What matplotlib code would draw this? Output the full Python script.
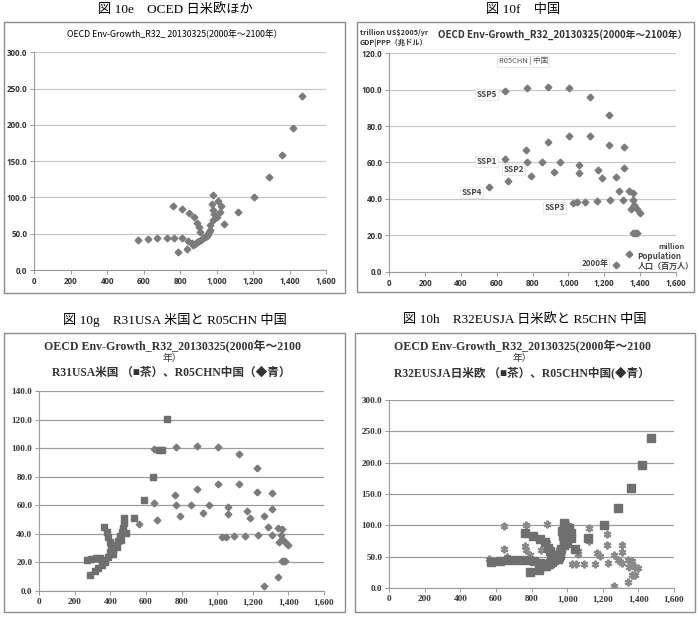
import matplotlib
matplotlib.use("Agg")
import matplotlib.pyplot as plt
from matplotlib.ticker import FuncFormatter, MultipleLocator
from matplotlib.patches import Rectangle

# R32EUSJA (Japan / US / EU), population [million] vs GDP|PPP [trillion US$2005/yr]
eusja_pop = [570, 622, 675, 726, 768, 812, 763, 809, 849, 876, 894, 904, 909, 790, 839,
             845, 863, 870, 882, 895, 905, 915, 925, 935, 945, 955, 950, 962, 960,
             982, 1009, 1022, 1019, 1000, 973, 978, 983, 982, 964, 1041, 1119,
             1205, 1285, 1360, 1420, 1468]
eusja_gdp = [41.3, 42.7, 44.5, 44.5, 44.5, 43.6, 88.2, 83.6, 78.1, 73.5, 64.3, 58.8, 52.8, 25.3, 28.9,
             40.4, 37.7, 35.0, 35.4, 38.0, 40.0, 42.0, 44.0, 46.0, 48.0, 50.0, 47.0, 55.0, 52.8,
             103.0, 95.5, 88.2, 80.4, 72.6, 91.0, 82.7, 77.0, 68.9, 62.0, 63.0, 79.5,
             101.0, 127.5, 159.0, 196.0, 240.0]

# R05CHN China
chn_pop = [645, 768, 884, 1003, 1120, 1226,
           645, 763, 884, 1003, 1120, 1226, 1310,
           768, 854, 953, 1059, 1165, 1265, 1310,
           664, 789, 921, 1059, 1185, 1284, 1340, 1362, 558,
           1027, 1049, 1094, 1157, 1231, 1306, 1358, 1365, 1347, 1380, 1399,
           1362, 1372, 1382, 1340, 1265]
chn_gdp = [99.4, 100.8, 101.7, 100.8, 96.0, 86.3,
           61.8, 66.9, 71.4, 74.6, 74.6, 69.4, 68.4,
           60.4, 60.4, 60.4, 58.6, 55.9, 52.2, 57.1,
           49.8, 52.7, 54.6, 54.1, 51.3, 44.5, 44.3, 43.4, 46.7,
           37.9, 38.1, 38.5, 38.8, 39.2, 39.2, 39.2, 36.6, 34.3, 34.3, 32.1,
           21.1, 21.0, 21.0, 9.6, 3.7]

# R31USA
usa_pop = [287, 313, 332, 353, 372, 387, 395, 402, 395, 387, 380, 366,
           266, 292, 319, 343, 364,
           404, 417, 414, 427, 436, 440, 452, 461, 463, 471, 474, 476, 490,
           533, 588, 638, 670, 689, 717]
usa_gdp = [11.4, 14.0, 16.3, 18.4, 20.3, 23.8, 27.3, 30.8, 34.3, 37.8, 41.3, 44.8,
           21.4, 22.4, 23.1, 23.1, 21.4,
           26.1, 26.1, 28.9, 31.9, 30.8, 35.0, 38.2, 35.4, 41.3, 44.3, 47.6, 51.0, 40.6,
           51.0, 63.9, 79.7, 98.4, 98.4, 120.5]

ssp_labels = ["SSP5", "SSP1", "SSP2", "SSP4", "SSP3"]
ssp_pos = [(600, 97.5), (600, 60.5), (752, 56.0), (515, 43.5), (980, 35.0)]

W, H = 699, 620
SANS = ["Noto Sans CJK JP", "DejaVu Sans"]
SERIF = ["Liberation Serif", "Noto Sans CJK JP"]
GRAY = "#7b7b7b"

fig = plt.figure(figsize=(W / 100, H / 100), dpi=100)


def px_axes(x0, y0, x1, y1):
    return fig.add_axes([x0 / W, 1 - y1 / H, (x1 - x0) / W, (y1 - y0) / H])


def ftext(x, y, s, **kw):
    fig.text(x / W, 1 - y / H, s, ha="center", va="center", **kw)


def frame(x0, y0, x1, y1):
    fig.patches.append(Rectangle((x0 / W, 1 - y1 / H), (x1 - x0) / W, (y1 - y0) / H,
                                 transform=fig.transFigure, fill=False,
                                 edgecolor="#8c8c8c", lw=1.0))


def style(ax, ymax, ystep, family, gridc, size):
    ax.set_xlim(0, 1600)
    ax.set_ylim(0, ymax)
    ax.xaxis.set_major_locator(MultipleLocator(200))
    ax.yaxis.set_major_locator(MultipleLocator(ystep))
    ax.xaxis.set_major_formatter(FuncFormatter(lambda v, p: f"{int(v):,}"))
    ax.yaxis.set_major_formatter(FuncFormatter(lambda v, p: f"{v:.1f}"))
    ax.grid(axis="y", color=gridc, lw=0.9)
    ax.set_axisbelow(True)
    for s in ["top", "right"]:
        ax.spines[s].set_visible(False)
    for s in ["left", "bottom"]:
        ax.spines[s].set_color("#9a9a9a")
        ax.spines[s].set_linewidth(0.8)
    ax.tick_params(length=3, width=0.7, color="#9a9a9a", pad=2, labelsize=size,
                   labelcolor="#333333")
    for lab in ax.get_xticklabels() + ax.get_yticklabels():
        lab.set_family(family)
        lab.set_fontweight("bold")


# ---- 10e
frame(4, 22, 345, 293)
ftext(175, 10, "図 10e　OCED 日米欧ほか", family=SERIF, fontsize=9.5)
ftext(175, 34, "OECD Env-Growth_R32_ 20130325(2000年～2100年）", family=SANS, fontsize=6.3)
ax = px_axes(34.3, 52.3, 326, 270)
ax.plot(eusja_pop, eusja_gdp, ls="none", marker="D", ms=3.4, color=GRAY, mec=GRAY)
style(ax, 300, 50, ["Open Sans"], "#c8c8c8", 5.8)

# ---- 10f
frame(357, 22, 694, 292)
ftext(523, 10, "図 10f　中国", family=SERIF, fontsize=9.5)
ftext(563, 35, "OECD Env-Growth_R32_20130325(2000年～2100年）", family=SANS, fontsize=7,
      fontweight="bold", color="#333333")
fig.text(360 / W, 1 - 32 / H, "trillion US$2005/yr", family=SANS, fontsize=5.2,
         fontweight="bold", va="center", color="#333333")
fig.text(360 / W, 1 - 43 / H, "GDP|PPP（兆ドル）", family=SANS, fontsize=5.2,
         fontweight="bold", va="center", color="#333333")
ax = px_axes(389.3, 53.3, 676, 271.7)
ax.plot(chn_pop, chn_gdp, ls="none", marker="D", ms=3.4, color=GRAY, mec=GRAY)
style(ax, 120, 20, ["Open Sans"], "#c8c8c8", 5.8)
box = dict(boxstyle="square,pad=0.15", fc="white", ec="#e4e4e4", lw=0.6)
for lab, (xx, yy) in zip(ssp_labels, ssp_pos):
    ax.text(xx, yy, lab, ha="right", va="center", family=SANS, fontsize=5.8,
            fontweight="bold", color="#444444", bbox=box)
ax.text(610, 115.5, "R05CHN | 中国", ha="left", va="center", family=SANS, fontsize=5.4,
        color="#555555", bbox=box)
ax.text(1222, 4.6, "2000年", ha="right", va="center", family=SANS, fontsize=5.8,
        fontweight="bold", color="#444444", bbox=box)
ax.text(1650, 13.8, "million", ha="right", va="center", family=SANS, fontsize=5.4,
        fontweight="bold", color="#444444", clip_on=False)
ax.text(1385, 8.4, "Population", ha="left", va="center", family=SANS, fontsize=5.8,
        fontweight="bold", color="#444444", clip_on=False)
ax.text(1385, 3.0, "人口（百万人）", ha="left", va="center", family=SANS, fontsize=5.8,
        fontweight="bold", color="#444444", clip_on=False)

# ---- 10g
frame(4, 333, 345, 612)
ftext(175, 320, "図 10g　R31USA 米国と R05CHN 中国", family=SERIF, fontsize=9.5)
ftext(173, 347, "OECD Env-Growth_R32_20130325(2000年～2100", family=SERIF, fontsize=8.6,
      fontweight="bold", color="#333333")
ftext(172, 358, "年）", family=SERIF, fontsize=7, color="#333333")
ftext(171, 373, "R31USA米国 （■茶）、R05CHN中国（◆青）", family=SERIF, fontsize=8.4,
      fontweight="bold", color="#333333")
ax = px_axes(39.3, 391, 324, 591)
ax.plot(chn_pop, chn_gdp, ls="none", marker="D", ms=3.4, color=GRAY, mec=GRAY)
ax.plot(usa_pop, usa_gdp, ls="none", marker="s", ms=5.0, color="#6f6f6f", mec="#6f6f6f")
style(ax, 140, 20, SERIF, "#9c9c9c", 6.6)

# ---- 10h
frame(355, 333, 695, 612)
ftext(525, 320, "図 10h　R32EUSJA 日米欧と R5CHN 中国", family=SERIF, fontsize=9.5)
ftext(523, 347, "OECD Env-Growth_R32_20130325(2000年～2100", family=SERIF, fontsize=8.6,
      fontweight="bold", color="#333333")
ftext(522, 358, "年）", family=SERIF, fontsize=7, color="#333333")
ftext(522, 373, "R32EUSJA日米欧 （■茶）、R05CHN中国(◆青）", family=SERIF, fontsize=8.4,
      fontweight="bold", color="#333333")
ax = px_axes(389.3, 400, 674, 588)
ax.plot(chn_pop, chn_gdp, ls="none", marker=(6, 2, 0), ms=5.5, color="#8a8a8a", mew=1.5)
ax.plot(eusja_pop, eusja_gdp, ls="none", marker="s", ms=5.2, color="#6f6f6f", mec="#6f6f6f")
style(ax, 300, 50, SERIF, "#9c9c9c", 6.6)

fig.savefig("out.png", dpi=100)
